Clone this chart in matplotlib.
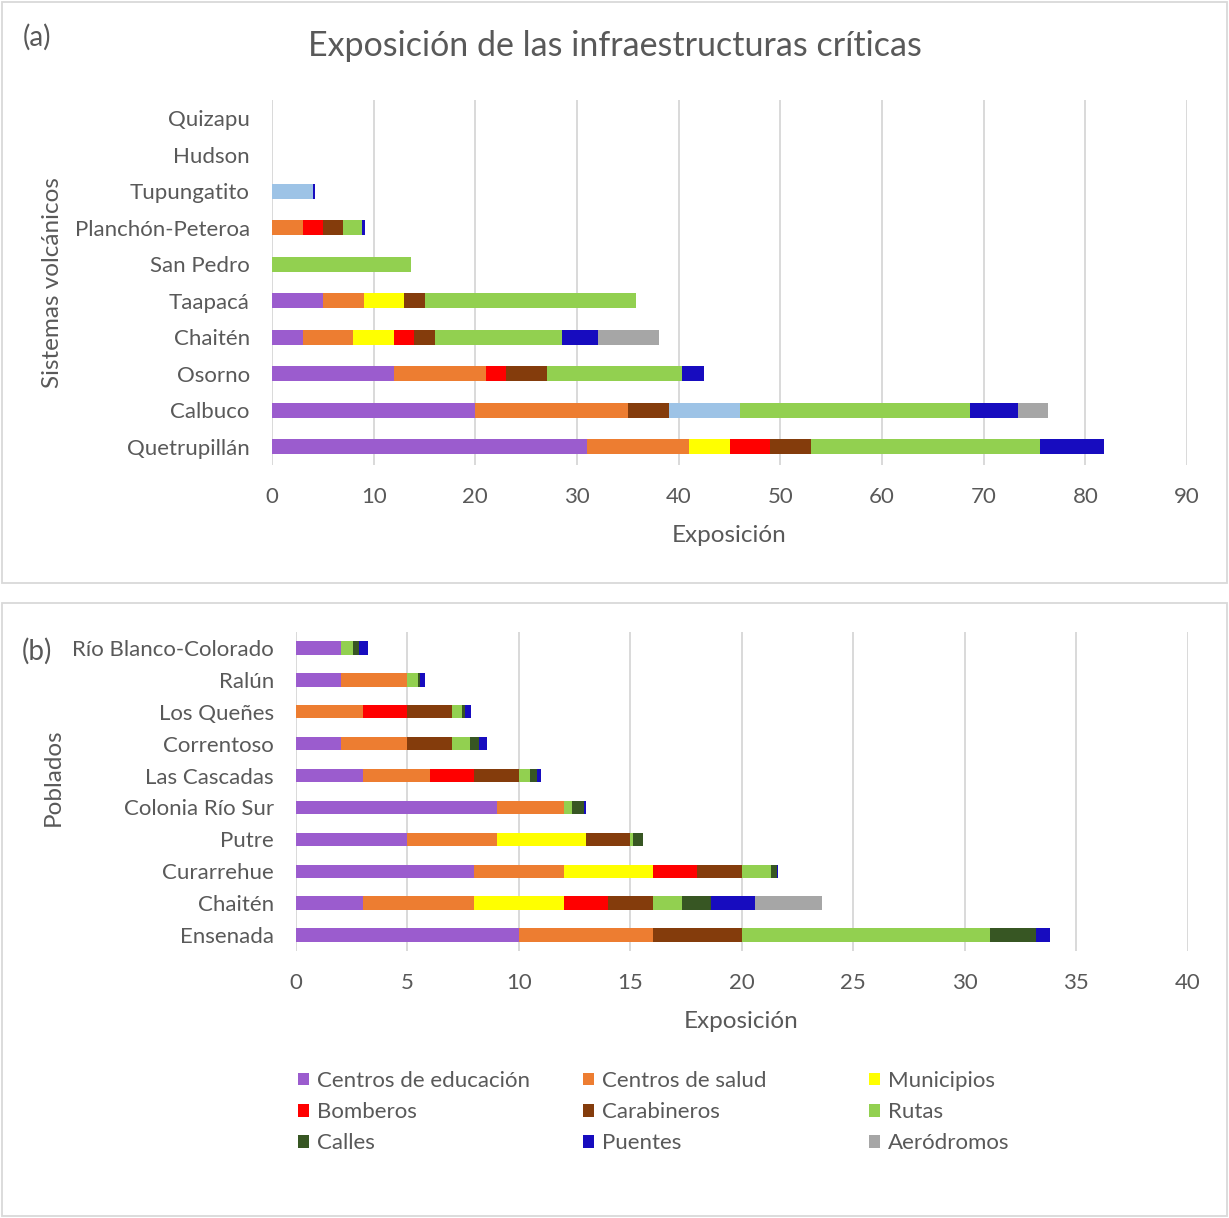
import numpy as np
import matplotlib
matplotlib.use("Agg")
import matplotlib.pyplot as plt
from matplotlib.patches import Rectangle, Patch

# ---------------- data ----------------
volcanes = ["Quizapu", "Hudson", "Tupungatito", "Planchón-Peteroa", "San Pedro",
            "Taapacá", "Chaitén", "Osorno", "Calbuco", "Quetrupillán"]
educ_a = [0, 0, 0, 0, 0, 5, 3, 12, 20, 31]
salud_a = [0, 0, 0, 3, 0, 4, 5, 9, 15, 10]
muni_a = [0, 0, 0, 0, 0, 4, 4, 0, 0, 4]
bomb_a = [0, 0, 0, 2, 0, 0, 2, 2, 0, 4]
carab_a = [0, 0, 0, 2, 0, 2, 2, 4, 4, 4]
otra_a = [0, 0, 4.05, 0, 0, 0, 0, 0, 7, 0]
rutas_a = [0, 0, 0, 1.9, 13.7, 20.85, 12.5, 13.3, 22.67, 22.5]
calles_a = [0, 0, 0, 0, 0, 0, 0, 0, 0, 0]
puentes_a = [0, 0, 0.15, 0.25, 0, 0, 3.6, 2.15, 4.7, 6.35]
aero_a = [0, 0, 0, 0, 0, 0, 6.0, 0, 2.95, 0]

poblados = ["Río Blanco-Colorado", "Ralún", "Los Queñes", "Correntoso", "Las Cascadas",
            "Colonia Río Sur", "Putre", "Curarrehue", "Chaitén", "Ensenada"]
educ_b = [2, 2, 0, 2, 3, 9, 5, 8, 3, 10]
salud_b = [0, 3, 3, 3, 3, 3, 4, 4, 5, 6]
muni_b = [0, 0, 0, 0, 0, 0, 4, 4, 4, 0]
bomb_b = [0, 0, 2, 0, 2, 0, 0, 2, 2, 0]
carab_b = [0, 0, 2, 2, 2, 0, 2, 2, 2, 4]
otra_b = [0, 0, 0, 0, 0, 0, 0, 0, 0, 0]
rutas_b = [0.57, 0.48, 0.46, 0.81, 0.5, 0.4, 0.1, 1.3, 1.3, 11.14]
calles_b = [0.27, 0.06, 0.1, 0.38, 0.3, 0.53, 0.45, 0.28, 1.3, 2.06]
puentes_b = [0.39, 0.25, 0.27, 0.4, 0.2, 0.1, 0, 0.03, 2.0, 0.61]
aero_b = [0, 0, 0, 0, 0, 0, 0, 0, 3.0, 0]

series_names = ["Centros de educación", "Centros de salud", "Municipios", "Bomberos",
                "Carabineros", "Otra infraestructura", "Rutas", "Calles", "Puentes",
                "Aeródromos"]
series_colors = ["#9B5CCE", "#ED7D31", "#FFFF00", "#FF0000", "#843C0C", "#9DC3E6",
                 "#92D050", "#375623", "#170CBF", "#A6A6A6"]
legend_rows = [["Centros de educación", "Centros de salud", "Municipios"],
               ["Bomberos", "Carabineros", "Rutas"],
               ["Calles", "Puentes", "Aeródromos"]]

TXT = "#595959"
GRID = "#D9D9D9"
plt.rcParams["font.family"] = ["Lato", "DejaVu Sans"]

W, H = 1229, 1218
fig = plt.figure(figsize=(W / 100, H / 100), dpi=100)


def fx(px):
    return px / W


def fy(py):
    return 1 - py / H


# panel frames
for top, bottom in [(2, 583), (603, 1216)]:
    fig.add_artist(Rectangle((fx(2), fy(bottom)), fx(1225), (bottom - top) / H,
                             transform=fig.transFigure, fill=False,
                             edgecolor=GRID, lw=1.3))


def stacked(ax, cats, data, xmax, step):
    y = np.arange(len(cats))
    left = np.zeros(len(cats))
    handles = {}
    for name, color, vals in zip(series_names, series_colors, data):
        vals = np.asarray(vals, dtype=float)
        bars = ax.barh(y, vals, left=left, height=0.42, color=color,
                       edgecolor="none", zorder=3)
        handles[name] = bars
        left += vals
    ax.set_xlim(0, xmax)
    ax.set_ylim(len(cats) - 0.5, -0.5)
    ax.set_xticks(np.arange(0, xmax + 0.1, step))
    ax.set_yticks(y)
    ax.set_yticklabels(cats)
    ax.grid(axis="x", color=GRID, lw=1.4, zorder=0)
    ax.set_axisbelow(True)
    for s in ax.spines.values():
        s.set_visible(False)
    ax.tick_params(length=0, labelsize=16, labelcolor=TXT, pad=16)
    return handles


# panel (a)
ax1 = fig.add_axes([fx(272), fy(465), fx(1187 - 272), (465 - 100) / H])
stacked(ax1, volcanes, [educ_a, salud_a, muni_a, bomb_a, carab_a, otra_a,
                        rutas_a, calles_a, puentes_a, aero_a], 90, 10)
fig.text(fx(615), fy(46), "Exposición de las infraestructuras críticas",
         ha="center", va="center", fontsize=24.5, color=TXT)
fig.text(fx(37), fy(37), "(a)", ha="center", va="center", fontsize=20, color=TXT)
fig.text(fx(729), fy(536), "Exposición", ha="center", va="center", fontsize=17.5, color=TXT)
fig.text(fx(53), fy(283), "Sistemas volcánicos", ha="center", va="center",
         rotation=90, fontsize=17.5, color=TXT)

# panel (b)
ax2 = fig.add_axes([fx(296), fy(951), fx(1187.7 - 296), (951 - 632) / H])
stacked(ax2, poblados, [educ_b, salud_b, muni_b, bomb_b, carab_b, otra_b,
                        rutas_b, calles_b, puentes_b, aero_b], 40, 5)
fig.text(fx(37), fy(651), "(b)", ha="center", va="center", fontsize=20, color=TXT)
fig.text(fx(741), fy(1021), "Exposición", ha="center", va="center", fontsize=17.5, color=TXT)
fig.text(fx(53), fy(777), "Poblados", ha="center", va="center",
         rotation=90, fontsize=17.5, color=TXT)

# legend: three columns of equal width
col_x = [298, 583, 869]
for c, x in enumerate(col_x):
    names = [row[c] for row in legend_rows]
    handles = [Patch(facecolor=series_colors[series_names.index(n)], edgecolor="none")
               for n in names]
    fig.legend(handles, names, loc="upper left",
               bbox_to_anchor=(fx(x), fy(1071)), frameon=False,
               fontsize=16, labelcolor=TXT, handlelength=0.5,
               handleheight=0.5, handletextpad=0.35, labelspacing=0.5,
               borderpad=0, borderaxespad=0)

fig.savefig("out.png", dpi=100)
